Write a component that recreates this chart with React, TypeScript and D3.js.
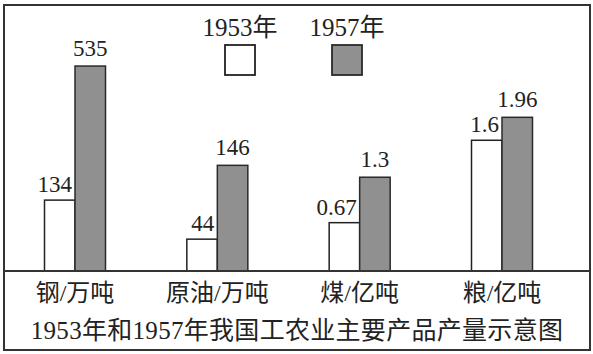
import React from "react";
import * as d3 from "d3";

const categories = ["钢/万吨", "原油/万吨", "煤/亿吨", "粮/亿吨"];
const series = ["1953年", "1957年"];
const values1953 = [134, 44, 0.67, 1.6];
const values1957 = [535, 146, 1.3, 1.96];
const valueLabels1953 = ["134", "44", "0.67", "1.6"];
const valueLabels1957 = ["535", "146", "1.3", "1.96"];
// schematic chart: each category has its own (unlabelled) scale
const scaleMin = [-78, 0, 0, -0.45];
const scaleMax = [580, 304, 3.05, 3.0];
const title = "1953年和1957年我国工农业主要产品产量示意图";

const W = 593;
const H = 354;
const baseY = 271;
const topY = 51;
const numFont = "'Liberation Serif', 'Times New Roman', serif";
const cjkFont = "'Liberation Serif', 'Noto Sans CJK SC', serif";

export default function App() {
  const x0 = d3.scalePoint<string>().domain(categories).range([75, 502]);
  const x1 = d3.scaleBand<string>().domain(series).range([-30.5, 30.5]);
  const yScales = categories.map((_, i) =>
    d3.scaleLinear().domain([scaleMin[i], scaleMax[i]]).range([baseY, topY])
  );
  const fills = ["#ffffff", "#909090"];
  const strokes = ["#222", "#2a2a2a"];

  return (
    <svg
      width={W}
      height={H}
      style={{ position: "absolute", left: 0, top: 0, background: "#fff" }}
    >
      <rect x={0} y={0} width={W} height={H} fill="#fff" />
      {/* border */}
      <rect x={4} y={5} width={586} height={345} fill="none" stroke="#333" strokeWidth={2} />
      {/* legend */}
      {series.map((s, j) => {
        const lx = [225, 332][j];
        return (
          <g key={s}>
            <text
              x={lx + 15}
              y={36}
              textAnchor="middle"
              fontFamily={cjkFont}
              fontSize={25}
              fill="#222"
            >
              {s}
            </text>
            <rect
              x={lx}
              y={45}
              width={30}
              height={30}
              fill={fills[j]}
              stroke={strokes[j]}
              strokeWidth={1.8}
            />
          </g>
        );
      })}
      {/* bars */}
      {categories.map((c, i) => {
        const cx = x0(c)!;
        const ys = yScales[i];
        const vals = [values1953[i], values1957[i]];
        return (
          <g key={c}>
            {series.map((s, j) => {
              const bx = cx + x1(s)!;
              const by = ys(vals[j]);
              return (
                <rect
                  key={s}
                  x={bx}
                  y={by}
                  width={x1.bandwidth()}
                  height={baseY - by}
                  fill={fills[j]}
                  stroke={strokes[j]}
                  strokeWidth={1.5}
                />
              );
            })}
            <text
              x={cx - 3}
              y={ys(vals[0]) - 8}
              textAnchor="end"
              fontFamily={numFont}
              fontSize={23}
              fill="#222"
            >
              {valueLabels1953[i]}
            </text>
            <text
              x={cx + x1(series[1])! + x1.bandwidth() / 2}
              y={ys(vals[1]) - 10}
              textAnchor="middle"
              fontFamily={numFont}
              fontSize={23}
              fill="#222"
            >
              {valueLabels1957[i]}
            </text>
            <text
              x={cx}
              y={301}
              textAnchor="middle"
              fontFamily={cjkFont}
              fontSize={24}
              fill="#222"
            >
              {c}
            </text>
          </g>
        );
      })}
      {/* baseline */}
      <line x1={4} x2={590} y1={baseY} y2={baseY} stroke="#333" strokeWidth={1.8} />
      <text
        x={297}
        y={339}
        textAnchor="middle"
        fontFamily={cjkFont}
        fontSize={25}
        letterSpacing={0.3}
        fill="#222"
      >
        {title}
      </text>
    </svg>
  );
}
